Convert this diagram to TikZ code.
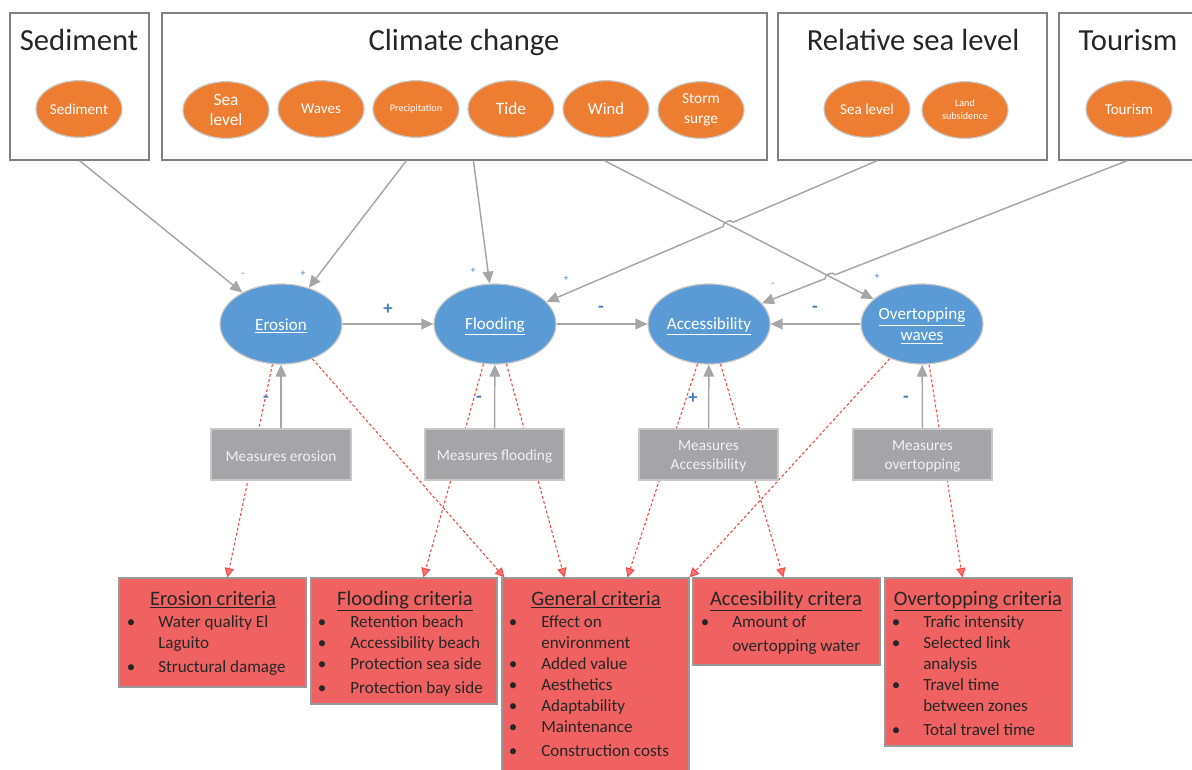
\documentclass[tikz,border=0pt]{standalone}
\usepackage{fontspec}
\setmainfont{Carlito}
\usetikzlibrary{arrows.meta,shapes.geometric,fit,calc,intersections,backgrounds}

\definecolor{driver}{RGB}{237,125,49}
\definecolor{effect}{RGB}{91,155,213}
\definecolor{measure}{RGB}{165,165,168}
\definecolor{critfill}{RGB}{240,98,98}
\definecolor{signblue}{RGB}{66,124,192}
\definecolor{linkgray}{RGB}{166,166,166}
\definecolor{framegray}{RGB}{128,128,128}
\definecolor{rimgray}{RGB}{200,200,200}
\definecolor{darktext}{RGB}{38,38,38}
\definecolor{critline}{RGB}{248,72,72}

\tikzset{
  frame/.style={draw=framegray, line width=0.9pt, inner sep=0pt},
  frametitle/.style={anchor=base, inner sep=0pt, text=darktext, font=\fontsize{23}{27}\selectfont},
  driveroval/.style={ellipse, draw=rimgray, line width=0.9pt, fill=driver, text=white,
    minimum width=64.5pt, minimum height=42.5pt, inner sep=0pt, align=center,
    font=\fontsize{11.3}{15}\selectfont},
  effectoval/.style={ellipse, draw=rimgray, line width=0.9pt, fill=effect,
    minimum width=91.5pt, minimum height=60pt, inner sep=0pt},
  effecttext/.style={inner sep=0pt, text=white, align=center, font=\fontsize{12.8}{15.75}\selectfont},
  measurebox/.style={draw=rimgray, line width=0.9pt, fill=measure, inner sep=0pt},
  measuretext/.style={inner sep=0pt, text=white!95!black, align=center, font=\fontsize{11.5}{14.25}\selectfont},
  critbox/.style={draw=framegray!80, line width=0.9pt, fill=critfill, inner sep=0pt},
  crittitle/.style={anchor=base, inner sep=0pt, text=darktext, font=\fontsize{15.4}{18}\selectfont},
  crititem/.style={anchor=base west, inner sep=0pt, text=darktext, font=\fontsize{12.8}{15}\selectfont},
  critbullet/.style={anchor=base, inner sep=0pt, text=darktext, font=\fontsize{12.8}{15}\selectfont},
  link/.style={draw=linkgray, line width=1.1pt, -{Triangle[length=9pt,width=8pt,fill=linkgray]}},
  critlink/.style={draw=critline, line width=0.8pt, dash pattern=on 2.2pt off 1.6pt,
    -{Triangle[length=7pt,width=7pt,fill=critline!75]}},
  smallsign/.style={inner sep=0pt, text=signblue, font=\fontsize{7.5}{8}\selectfont},
  bigsign/.style={inner sep=0pt, text=signblue, font=\fontsize{14}{16}\selectfont\bfseries},
}

\begin{document}
\begin{tikzpicture}[x=0.75pt,y=-0.75pt]
\useasboundingbox (0,0) rectangle (1192,769);

% ---------- driver frames ----------
\node[frame, fit={(10,13) (149,160)}] (sedbox) {};
\node[frame, fit={(162,13) (767,160)}] (ccbox) {};
\node[frame, fit={(778,13) (1047,160)}] (rsbox) {};
\node[frame, fit={(1059,13) (1200,160)}] (tobox) {};

\node[frametitle] (sedtitle) at (79,50) {Sediment};
\node[frametitle] (cctitle) at (464,50) {Climate change};
\node[frametitle] (rstitle) at (913,50) {Relative sea level};
\node[frametitle] (totitle) at (1128,50) {Tourism};

% ---------- driver ovals ----------
\node[driveroval] (d-sed) at (79,109) {Sediment};
\node[driveroval, font=\fontsize{13}{15}\selectfont] (d-sea) at (226,110) {Sea\\level};
\node[driveroval] (d-wav) at (321,109) {Waves};
\node[driveroval, font=\fontsize{7.6}{9}\selectfont] (d-pre) at (416,109) {Precipitation};
\node[driveroval, font=\fontsize{13}{15}\selectfont] (d-tid) at (511,109) {Tide};
\node[driveroval, font=\fontsize{12.5}{15}\selectfont] (d-win) at (606,109) {Wind};
\node[driveroval, font=\fontsize{11.5}{15}\selectfont] (d-sto) at (701,110) {Storm\\surge};
\node[driveroval] (d-rsl) at (867,109) {Sea level};
\node[driveroval, font=\fontsize{7.6}{9.75}\selectfont] (d-lan) at (965,110) {Land\\subsidence};
\node[driveroval] (d-tou) at (1129,109) {Tourism};

% ---------- effect ovals ----------
\node[effectoval] (ero) at (281,324) {};
\node[effectoval] (flo) at (495,324) {};
\node[effectoval] (acc) at (709,324) {};
\node[effectoval] (ovw) at (922,324) {};
\node[effecttext] (ero-t) at ($(ero.center)+(0,2)$) {\underline{Erosion}};
\node[effecttext] (flo-t) at ($(flo.center)+(0,2)$) {\underline{Flooding}};
\node[effecttext] (acc-t) at ($(acc.center)+(0,2)$) {\underline{Accessibility}};
\node[effecttext] (ovw-t) at ($(ovw.center)+(0,2)$) {\underline{Overtopping}\\\underline{waves}};

% ---------- criteria boxes ----------
\node[critbox, fit={(119,578) (306,687)}] (c-ero) {};
\node[critbox, fit={(311,578) (497,704)}] (c-flo) {};
\node[critbox, fit={(502,578) (689,780)}] (c-gen) {};
\node[critbox, fit={(693,578) (880,665)}] (c-acc) {};
\node[critbox, fit={(885,578) (1072,746)}] (c-ovt) {};

% erosion criteria
\node[crittitle] (ce-t) at (213,605) {\underline{Erosion criteria}};
\node[critbullet] (ce-b1) at (131,627) {\textbullet};
\node[crititem] (ce-1) at (158,627) {Water quality El};
\node[crititem] (ce-2) at (158,648) {Laguito};
\node[critbullet] (ce-b3) at (131,672) {\textbullet};
\node[crititem] (ce-3) at (158,672) {Structural damage};

% flooding criteria
\node[crittitle] (cf-t) at (405,605) {\underline{Flooding criteria}};
\node[critbullet] (cf-b1) at (322,627) {\textbullet};
\node[crititem] (cf-1) at (350,627) {Retention beach};
\node[critbullet] (cf-b2) at (322,648) {\textbullet};
\node[crititem] (cf-2) at (350,648) {Accessibility beach};
\node[critbullet] (cf-b3) at (322,669) {\textbullet};
\node[crititem] (cf-3) at (350,669) {Protection sea side};
\node[critbullet] (cf-b4) at (322,693) {\textbullet};
\node[crititem] (cf-4) at (350,693) {Protection bay side};

% general criteria
\node[crittitle] (cg-t) at (596,605) {\underline{General criteria}};
\node[critbullet] (cg-b1) at (513,627) {\textbullet};
\node[crititem] (cg-1) at (541,627) {Effect on};
\node[crititem] (cg-2) at (541,648) {environment};
\node[critbullet] (cg-b3) at (513,669) {\textbullet};
\node[crititem] (cg-3) at (541,669) {Added value};
\node[critbullet] (cg-b4) at (513,690) {\textbullet};
\node[crititem] (cg-4) at (541,690) {Aesthetics};
\node[critbullet] (cg-b5) at (513,711) {\textbullet};
\node[crititem] (cg-5) at (541,711) {Adaptability};
\node[critbullet] (cg-b6) at (513,732) {\textbullet};
\node[crititem] (cg-6) at (541,732) {Maintenance};
\node[critbullet] (cg-b7) at (513,756) {\textbullet};
\node[crititem] (cg-7) at (541,756) {Construction costs};

% accessibility criteria
\node[crittitle] (ca-t) at (786,605) {\underline{Accesibility critera}};
\node[critbullet] (ca-b1) at (705,627) {\textbullet};
\node[crititem] (ca-1) at (732,627) {Amount of};
\node[crititem] (ca-2) at (732,651) {overtopping water};

% overtopping criteria
\node[crittitle] (co-t) at (978,605) {\underline{Overtopping criteria}};
\node[critbullet] (co-b1) at (896,627) {\textbullet};
\node[crititem] (co-1) at (923,627) {Trafic intensity};
\node[critbullet] (co-b2) at (896,648) {\textbullet};
\node[crititem] (co-2) at (923,648) {Selected link};
\node[crititem] (co-3) at (923,669) {analysis};
\node[critbullet] (co-b4) at (896,690) {\textbullet};
\node[crititem] (co-4) at (923,690) {Travel time};
\node[crititem] (co-5) at (923,711) {between zones};
\node[critbullet] (co-b6) at (896,735) {\textbullet};
\node[crititem] (co-6) at (923,735) {Total travel time};

% ---------- measure boxes ----------
\node[measurebox, fit={(211,429) (351,480)}] (m-ero) {};
\node[measuretext] (m-ero-t) at ($(m-ero.center)+(0,2)$) {Measures erosion};
\node[measurebox, fit={(425,429) (564,480)}] (m-flo) {};
\node[measuretext] (m-flo-t) at ($(m-flo.center)+(0,2)$) {Measures flooding};
\node[measurebox, fit={(639,429) (778,480)}] (m-acc) {};
\node[measuretext] (m-acc-t) at ($(m-acc.center)+(0,2)$) {Measures\\Accessibility};
\node[measurebox, fit={(853,429) (992,480)}] (m-ovt) {};
\node[measuretext] (m-ovt-t) at ($(m-ovt.center)+(0,2)$) {Measures\\overtopping};

% ---------- outlet points on the driver frames ----------
\coordinate (sed-out) at (sedbox.south);
\coordinate (cc-out1) at ($(ccbox.south west)+(245,0)$);
\coordinate (cc-out2) at ($(ccbox.south west)+(312,0)$);
\coordinate (cc-out3) at ($(ccbox.south west)+(443,0)$);
\coordinate (rs-out) at ($(rsbox.south west)+(100,0)$);
\coordinate (to-out) at ($(tobox.south west)+(69,0)$);

% ---------- driver links ----------
\draw[link] (sed-out) -- (ero);
\draw[link] (cc-out1) -- (ero);
\draw[link] (cc-out2) -- (flo);
\draw[link] (cc-out3) -- (ovw);

\path[name path=p-ccov] (cc-out3) -- (ovw);
\path[name path=p-rsfl] (rs-out) -- (flo);
\path[name path=p-toac] (to-out) -- (acc);
\path[name intersections={of=p-ccov and p-rsfl, by=hop1}];
\path[name intersections={of=p-ccov and p-toac, by=hop2}];

\draw[link] (rs-out) -- ($(hop1)!4pt!(rs-out)$) to[bend right=90] ($(hop1)!4pt!(flo)$) -- (flo);
\draw[link] (to-out) -- ($(hop2)!4pt!(to-out)$) to[bend right=90] ($(hop2)!4pt!(acc)$) -- (acc);

% ---------- effect links ----------
\draw[link] (ero) -- (flo);
\draw[link] (flo) -- (acc);
\draw[link] (ovw) -- (acc);

\draw[link] (m-ero) -- (ero);
\draw[link] (m-flo) -- (flo);
\draw[link] (m-acc) -- (acc);
\draw[link] (m-ovt) -- (ovw);

% ---------- criteria links (behind the measure boxes) ----------
\begin{scope}[on background layer]
\draw[critlink] (ero.258) -- ($(c-ero.north west)+(109,0)$);
\draw[critlink] (ero.312) -- ($(c-gen.north west)+(3,0)$);
\draw[critlink] (flo.254) -- ($(c-flo.north west)+(113,0)$);
\draw[critlink] (flo.286) -- ($(c-gen.north west)+(63,0)$);
\draw[critlink] (acc.254) -- ($(c-gen.north west)+(126,0)$);
\draw[critlink] (acc.286) -- ($(c-acc.north west)+(91,0)$);
\draw[critlink] (ovw.227) -- (c-gen.north east);
\draw[critlink] (ovw.280) -- ($(c-ovt.north west)+(78,0)$);
\end{scope}

% ---------- signs ----------
\node[smallsign] (s-sed) at (243,275) {-};
\node[smallsign] (s-cc1) at (303,274) {+};
\node[smallsign] (s-cc2) at (473,271) {+};
\node[smallsign] (s-rs) at (566,279) {+};
\node[smallsign] (s-to) at (773,285) {-};
\node[smallsign] (s-cc3) at (877,277) {+};

\node[bigsign] (s-ef) at (388,309) {+};
\node[bigsign] (s-fa) at (601,309) {-};
\node[bigsign] (s-oa) at (815,309) {-};

\node[bigsign] (s-me) at (266,399) {-};
\node[bigsign] (s-mf) at (479,399) {-};
\node[bigsign] (s-ma) at (693,398) {+};
\node[bigsign] (s-mo) at (906,399) {-};
\end{tikzpicture}
\end{document}
